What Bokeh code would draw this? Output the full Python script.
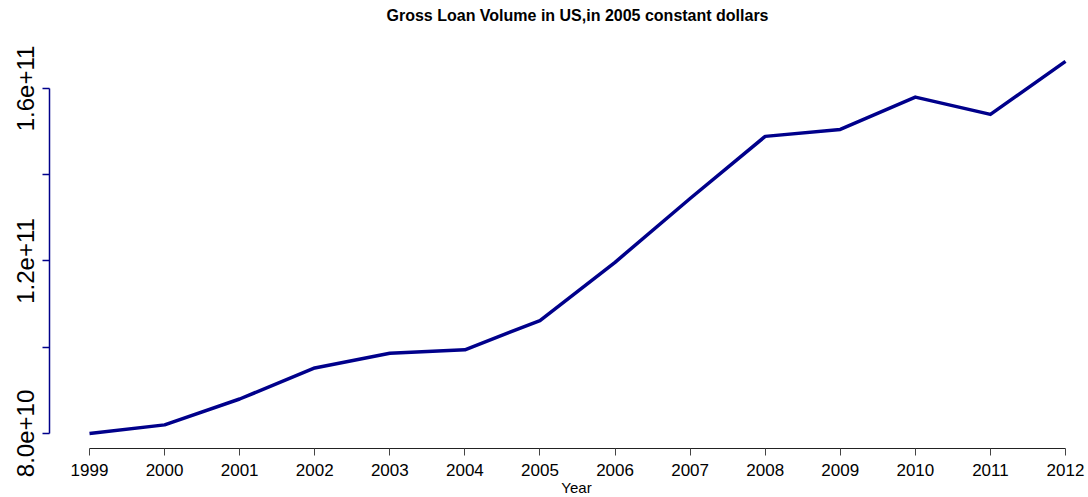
from bokeh.plotting import figure
from bokeh.models import Range1d, FixedTicker, Label
from bokeh.embed import file_html
from bokeh.resources import INLINE

# Data
years = [1999, 2000, 2001, 2002, 2003, 2004, 2005, 2006, 2007, 2008, 2009, 2010, 2011, 2012]
loan_volume = [80.0e9, 82.0e9, 88.0e9, 95.2e9, 98.6e9, 99.4e9, 106.2e9, 119.7e9,
               134.5e9, 148.9e9, 150.5e9, 158.0e9, 154.0e9, 166.3e9]
y_ticks = [80e9, 100e9, 120e9, 140e9, 160e9]
y_tick_labels = {80000000000: "8.0e+10", 100000000000: "", 120000000000: "1.2e+11",
                 140000000000: "", 160000000000: "1.6e+11"}
title_text = "Gross Loan Volume in US,in 2005 constant dollars"
x_label_text = "Year"

FONT = "Liberation Sans"
LINE_COLOR = "#00008B"

p = figure(width=1088, height=497, output_backend="svg", toolbar_location=None,
           x_range=Range1d(1997.8146, 2012.3063), y_range=Range1d(65.159e9, 180.406e9))
p.min_border = 0
p.min_border_left = 0
p.min_border_right = 0
p.min_border_top = 0
p.min_border_bottom = 0
p.outline_line_color = None
p.xgrid.visible = False
p.ygrid.visible = False
p.background_fill_color = "white"
p.border_fill_color = "white"

p.line(years, loan_volume, line_color=LINE_COLOR, line_width=3.5, line_join="round")

# x axis (drawn at the bottom edge of the R plot region)
xa = p.xaxis[0]
xa.fixed_location = 76.522e9
xa.ticker = FixedTicker(ticks=years)
xa.bounds = (1999, 2012)
xa.axis_line_color = "#222222"
xa.axis_line_width = 1
xa.major_tick_line_color = "#444444"
xa.major_tick_out = 7
xa.major_tick_in = 0
xa.minor_tick_line_color = None
xa.major_label_text_font = FONT
xa.major_label_text_font_size = "17px"
xa.major_label_text_color = "black"
xa.major_label_standoff = 9

# y axis (drawn at the left edge of the R plot region)
ya = p.yaxis[0]
ya.fixed_location = 1998.4672
ya.ticker = FixedTicker(ticks=y_ticks)
ya.bounds = (80e9, 160e9)
ya.axis_line_color = LINE_COLOR
ya.axis_line_width = 1.5
ya.major_tick_line_color = LINE_COLOR
ya.major_tick_line_width = 1.5
ya.major_tick_out = 7
ya.major_tick_in = 0
ya.minor_tick_line_color = None
ya.major_label_overrides = y_tick_labels
ya.major_label_orientation = "parallel"
ya.major_label_text_font = FONT
ya.major_label_text_font_size = "24px"
ya.major_label_text_color = "black"
ya.major_label_standoff = 8

# title and x-axis label
p.add_layout(Label(x=2005.5, y=177.04e9, text=title_text, text_align="center",
                   text_baseline="alphabetic", text_font=FONT, text_font_size="16px",
                   text_font_style="bold", text_color="black"))
p.add_layout(Label(x=2005.487, y=67.48e9, text=x_label_text, text_align="center",
                   text_baseline="alphabetic", text_font=FONT, text_font_size="15px",
                   text_color="black"))

open("out.html", "w").write(file_html(p, INLINE))
